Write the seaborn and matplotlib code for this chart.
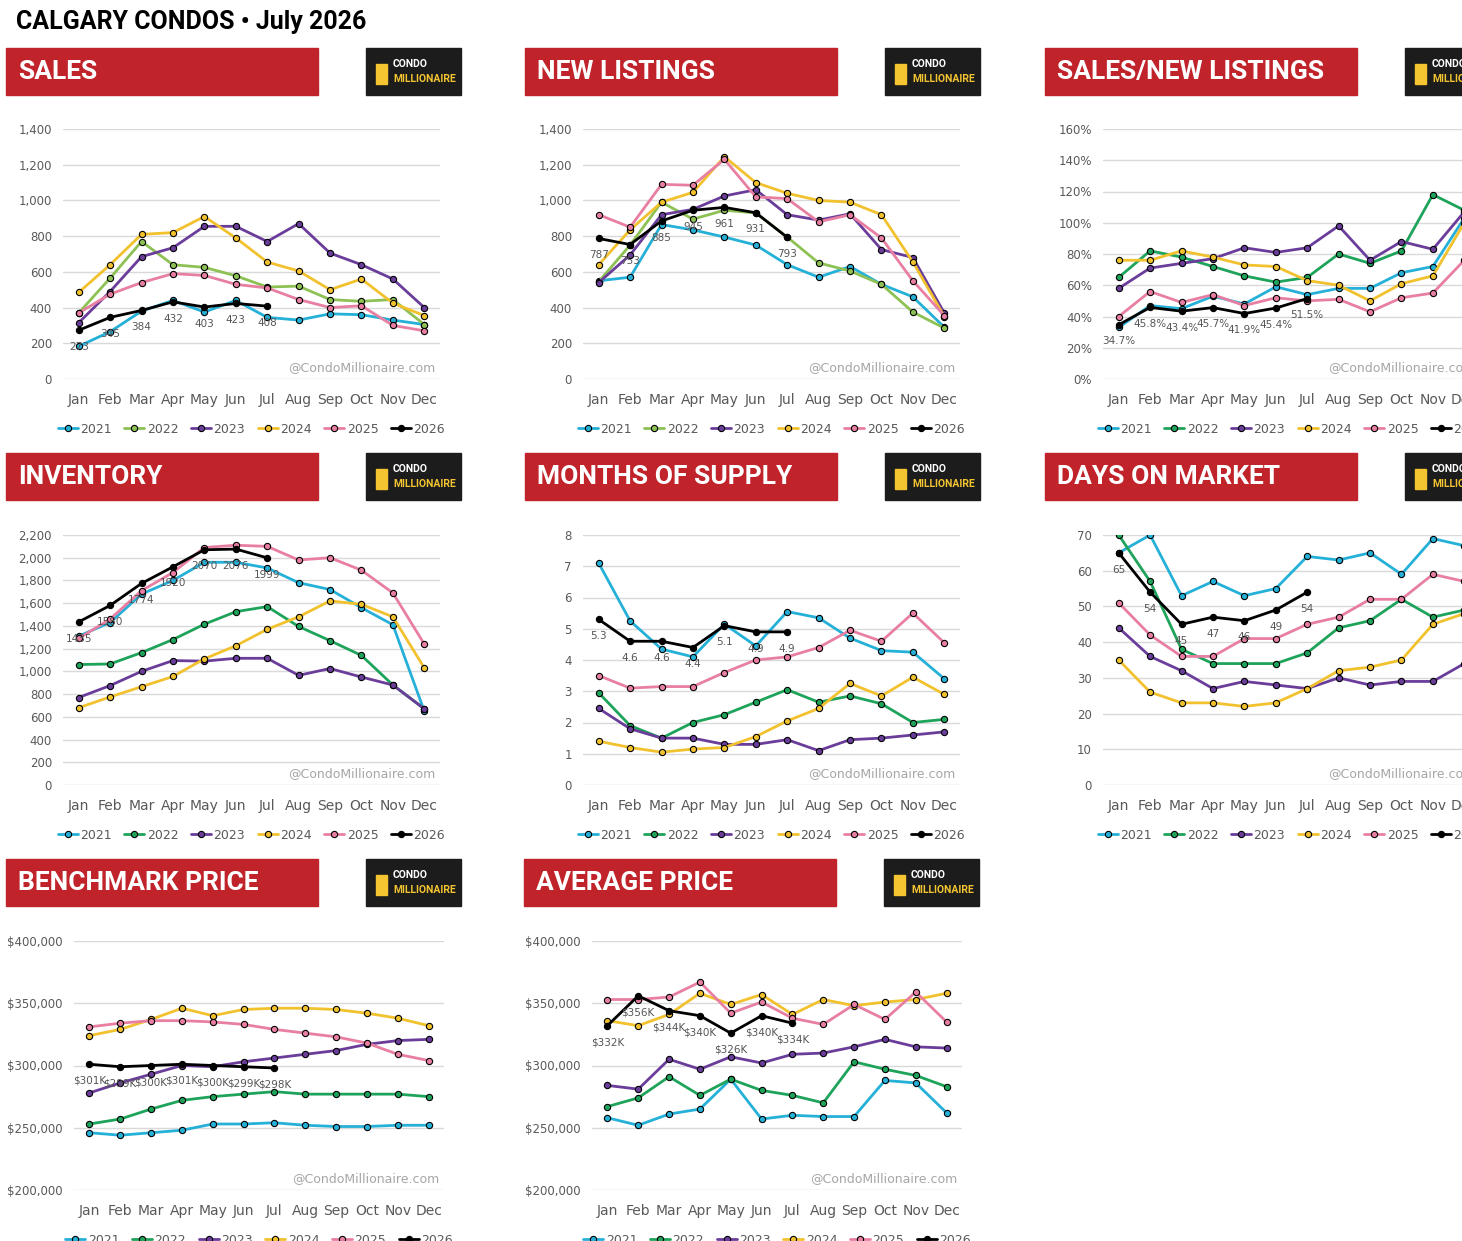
import matplotlib
matplotlib.use("Agg")
import matplotlib.pyplot as plt
from matplotlib.patches import Rectangle
import seaborn as sns
import pandas as pd

months = ["Jan","Feb","Mar","Apr","May","Jun","Jul","Aug","Sep","Oct","Nov","Dec"]
years = ["2021","2022","2023","2024","2025","2026"]

sales = {
 "2021":[183,265,380,440,375,440,345,330,365,360,330,305],
 "2022":[370,565,770,640,625,578,515,520,445,435,445,305],
 "2023":[315,490,685,735,855,855,770,870,705,640,560,400],
 "2024":[485,640,810,820,910,790,655,605,500,560,425,355],
 "2025":[370,475,540,590,580,530,510,445,400,410,300,270],
 "2026":[273,345,384,432,403,423,408]}
new_listings = {
 "2021":[550,570,865,835,795,750,640,570,630,530,460,290],
 "2022":[545,750,990,895,945,930,795,650,605,530,375,285],
 "2023":[540,695,920,950,1025,1060,920,890,925,725,680,370],
 "2024":[640,835,990,1045,1245,1100,1040,1000,990,920,655,350],
 "2025":[920,850,1090,1085,1230,1020,1010,880,920,790,550,355],
 "2026":[787,753,885,945,961,931,793]}
snlr = {
 "2021":[33,47,45,53,48,59,54,58,58,68,72,103],
 "2022":[65,82,78,72,66,62,65,80,74,82,118,108],
 "2023":[58,71,74,77,84,81,84,98,76,88,83,107],
 "2024":[76,76,82,78,73,72,63,60,50,61,66,100],
 "2025":[40,56,49,54,47,52,50,51,43,52,55,76],
 "2026":[34.7,45.8,43.4,45.7,41.9,45.4,51.5]}
inventory = {
 "2021":[1310,1430,1680,1800,1960,1960,1910,1780,1720,1560,1410,650],
 "2022":[1060,1065,1165,1280,1415,1525,1570,1395,1270,1140,880,670],
 "2023":[770,875,1000,1095,1090,1115,1115,965,1025,950,880,670],
 "2024":[680,775,865,955,1110,1225,1370,1480,1620,1590,1480,1030],
 "2025":[1290,1460,1710,1870,2090,2110,2100,1980,2000,1890,1690,1240],
 "2026":[1435,1580,1774,1920,2070,2076,1999]}
mos = {
 "2021":[7.1,5.25,4.35,4.1,5.15,4.45,5.55,5.35,4.7,4.3,4.25,3.4],
 "2022":[2.95,1.9,1.5,2.0,2.25,2.65,3.05,2.65,2.85,2.6,2.0,2.1],
 "2023":[2.45,1.8,1.5,1.5,1.3,1.3,1.45,1.1,1.45,1.5,1.6,1.7],
 "2024":[1.4,1.2,1.05,1.15,1.2,1.55,2.05,2.45,3.25,2.85,3.45,2.9],
 "2025":[3.5,3.1,3.15,3.15,3.6,4.0,4.1,4.4,4.95,4.6,5.5,4.55],
 "2026":[5.3,4.6,4.6,4.4,5.1,4.9,4.9]}
dom = {
 "2021":[65,70,53,57,53,55,64,63,65,59,69,67],
 "2022":[70,57,38,34,34,34,37,44,46,52,47,49],
 "2023":[44,36,32,27,29,28,27,30,28,29,29,34],
 "2024":[35,26,23,23,22,23,27,32,33,35,45,48],
 "2025":[51,42,36,36,41,41,45,47,52,52,59,57],
 "2026":[65,54,45,47,46,49,54]}
benchmark = {
 "2021":[246,244,246,248,253,253,254,252,251,251,252,252],
 "2022":[253,257,265,272,275,277,279,277,277,277,277,275],
 "2023":[278,286,293,300,299,303,306,309,312,317,320,321],
 "2024":[324,329,337,346,340,345,346,346,345,342,338,332],
 "2025":[331,334,336,336,335,333,329,326,323,318,309,304],
 "2026":[301,299,300,301,300,299,298]}
avg_price = {
 "2021":[258,252,261,265,289,257,260,259,259,288,286,262],
 "2022":[267,274,291,276,289,280,276,270,303,297,292,283],
 "2023":[284,281,305,297,307,302,309,310,315,321,315,314],
 "2024":[336,332,341,358,349,357,341,353,348,351,353,358],
 "2025":[353,353,355,367,342,351,338,333,349,337,359,335],
 "2026":[332,356,344,340,326,340,334]}

W, H = 1462, 1241
sns.set_theme(style="white")
HEAD = ["Roboto", "DejaVu Sans"]
fig = plt.figure(figsize=(W/100, H/100), dpi=100)

def frac(x0, y0, x1, y1):
    return [x0/W, 1-y1/H, (x1-x0)/W, (y1-y0)/H]

def header(x, y, title):
    fig.patches.append(Rectangle((x/W, 1-(y+47)/H), 312/W, 47/H, transform=fig.transFigure,
                                 color="#c0232a", zorder=1))
    fig.text((x+12)/W, 1-(y+24)/H, title, color="white", fontsize=19, fontweight="bold",
             family=HEAD, va="center", ha="left")
    lx = x + 360
    fig.patches.append(Rectangle((lx/W, 1-(y+47)/H), 95/W, 47/H, transform=fig.transFigure,
                                 color="#1c1c1c", zorder=1))
    fig.text((lx+27)/W, 1-(y+16)/H, "CONDO", color="white", fontsize=7.5, fontweight="bold",
             family=HEAD, va="center")
    fig.text((lx+27)/W, 1-(y+31)/H, "MILLIONAIRE", color="#f4c531", fontsize=7.5, fontweight="bold",
             family=HEAD, va="center")
    fig.patches.append(Rectangle(((lx+10)/W, 1-(y+36)/H), 11/W, 20/H, transform=fig.transFigure,
                                 color="#f4c531", zorder=2))

pal_light = {"2021":"#25b0d8","2022":"#8dc153","2023":"#6a3d9a","2024":"#f2c12e","2025":"#e87fa3","2026":"#000000"}
pal_dark = dict(pal_light); pal_dark["2022"] = "#1ea35a"

def panel(x0, y0, x1, y1, data, ylim, ticks, fmt, labfmt, pal):
    ax = fig.add_axes(frac(x0, y0, x1, y1))
    rows = []
    for yr in years:
        for i, v in enumerate(data[yr]):
            rows.append({"month": i, "value": v, "year": yr})
    df = pd.DataFrame(rows)
    sns.lineplot(data=df, x="month", y="value", hue="year", palette=pal, marker="o",
                 markersize=4.5, markeredgecolor="black", markeredgewidth=0.8,
                 linewidth=2, ax=ax, legend=True)
    for i, v in enumerate(data["2026"]):
        ax.annotate(labfmt(v), (i, v), xytext=(0, -12), textcoords="offset points",
                    ha="center", va="center", fontsize=7.5, color="#555555")
    ax.set_xlim(-0.5, 11.5)
    ax.set_ylim(*ylim)
    ax.set_yticks(ticks)
    ax.set_yticklabels([fmt(t) for t in ticks], fontsize=8.5, color="#595959")
    ax.set_xticks(range(12))
    ax.set_xticklabels(months, fontsize=10, color="#595959")
    ax.tick_params(axis="x", pad=10, length=0)
    ax.tick_params(axis="y", length=0, pad=8)
    ax.grid(axis="y", color="#d9d9d9", linewidth=1)
    for s in ax.spines.values():
        s.set_visible(False)
    ax.set_xlabel(""); ax.set_ylabel("")
    ax.text(11.35, ylim[0] + (ylim[1]-ylim[0])*0.045, "@CondoMillionaire.com", ha="right",
            va="center", fontsize=9, color="#a6a6a6")
    h, l = ax.get_legend_handles_labels()
    ax.legend(h, l, loc="upper center", bbox_to_anchor=(0.5, -0.13), ncol=6, frameon=False,
              fontsize=9, handlelength=1.6, handletextpad=0.2, columnspacing=1.0,
              labelcolor="#595959")
    return ax

fig.text(16/W, 1-22/H, "CALGARY CONDOS \u2022 July 2026", fontsize=18, fontweight="bold",
         family=HEAD, va="center", ha="left", color="black")

num = lambda t: f"{int(t):,}"
header(6, 48, "SALES"); header(525, 48, "NEW LISTINGS"); header(1045, 48, "SALES/NEW LISTINGS")
header(6, 453, "INVENTORY"); header(525, 453, "MONTHS OF SUPPLY"); header(1045, 453, "DAYS ON MARKET")
header(6, 859, "BENCHMARK PRICE"); header(524, 859, "AVERAGE PRICE")

panel(63, 129, 440, 379, sales, (0, 1400), range(0, 1401, 200), num, lambda v: f"{v}", pal_light)
panel(583, 129, 960, 379, new_listings, (0, 1400), range(0, 1401, 200), num, lambda v: f"{v}", pal_light)
panel(1103, 129, 1480, 379, snlr, (0, 160), range(0, 161, 20), lambda t: f"{t}%", lambda v: f"{v}%", pal_dark)
panel(63, 535, 440, 785, inventory, (0, 2200), range(0, 2201, 200), num, lambda v: f"{v}", pal_dark)
panel(583, 535, 960, 785, mos, (0, 8), range(0, 9), lambda t: f"{t}", lambda v: f"{v}", pal_dark)
panel(1103, 535, 1480, 785, dom, (0, 70), range(0, 71, 10), lambda t: f"{t}", lambda v: f"{v}", pal_dark)
panel(74, 941, 444, 1190, benchmark, (200, 400), range(200, 401, 50), lambda t: f"${t},000", lambda v: f"${v}K", pal_dark)
panel(592, 941, 962, 1190, avg_price, (200, 400), range(200, 401, 50), lambda t: f"${t},000", lambda v: f"${v}K", pal_dark)

fig.savefig("out.png", dpi=100)
